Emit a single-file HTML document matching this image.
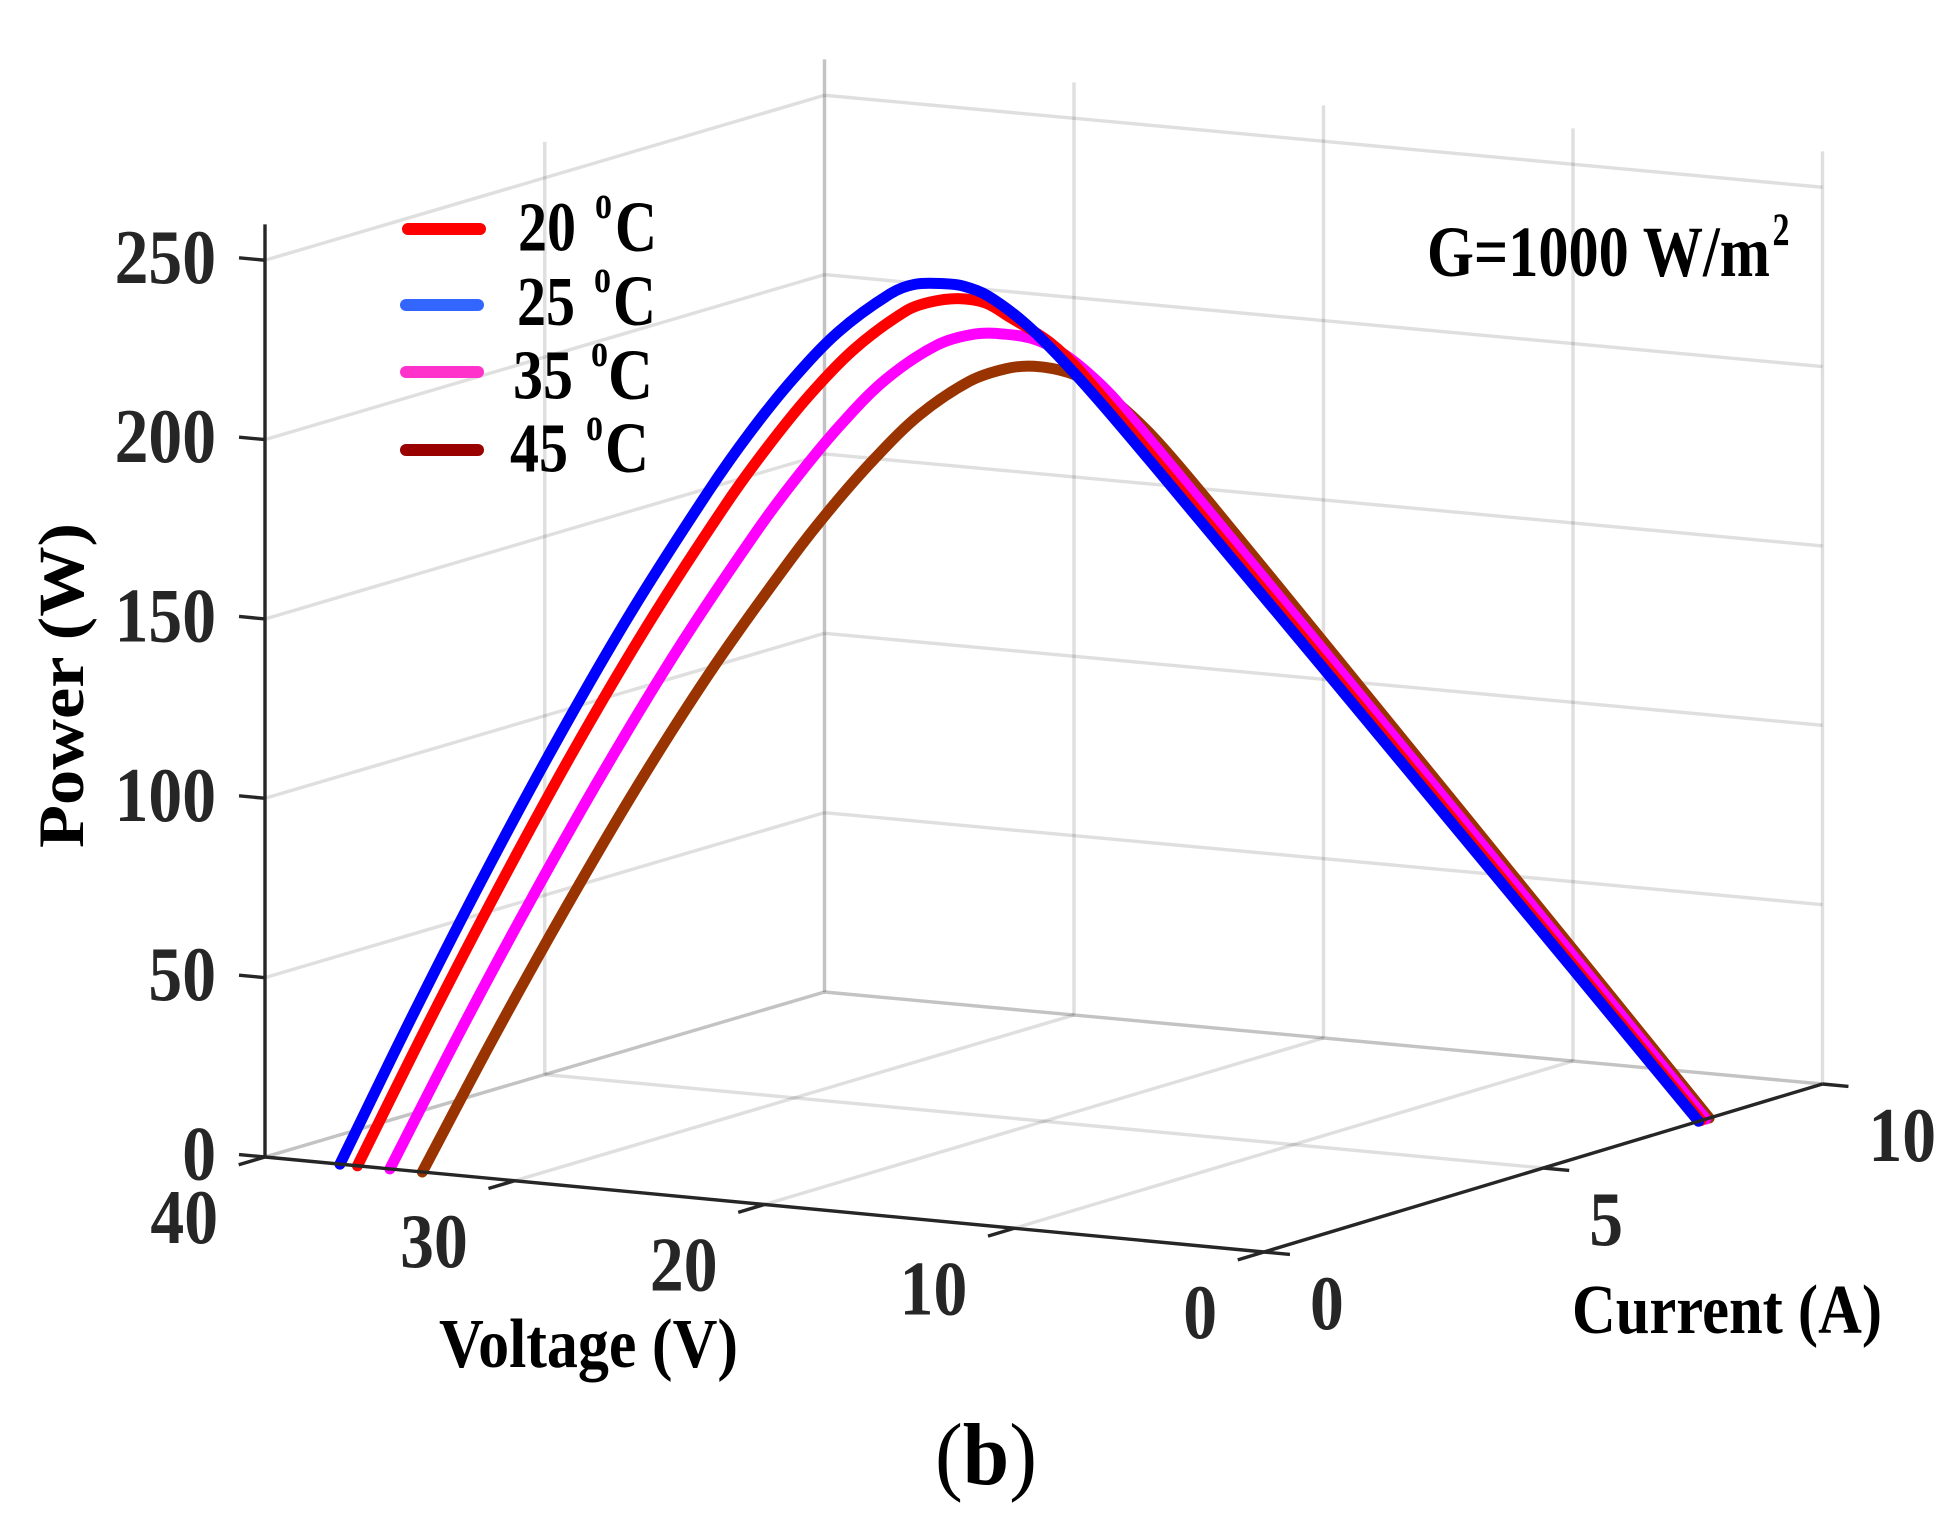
<!DOCTYPE html>
<html lang="en">
<head>
<meta charset="utf-8">
<title>Power vs Voltage and Current</title>
<style>
html,body{margin:0;padding:0;background:#fff;}
svg{display:block;}
text{font-family:"Liberation Serif",serif;font-weight:bold;}
</style>
</head>
<body>
<svg id="chart" xmlns="http://www.w3.org/2000/svg" width="1960" height="1521" viewBox="0 0 1960 1521">
  <rect x="0" y="0" width="1960" height="1521" fill="#ffffff"/>
  <g id="grid"></g>
  <g id="curves"></g>
  <g id="axes"></g>
  <g id="ticklabels"></g>

  <g>
    <line x1="408" y1="229" x2="480" y2="229" stroke="#ff0000" stroke-width="12" stroke-linecap="round"/>
    <text x="518" y="250.5" font-size="70" fill="#000" textLength="58" lengthAdjust="spacingAndGlyphs">20</text>
    <text x="595" y="218" font-size="48" fill="#000" textLength="17" lengthAdjust="spacingAndGlyphs">o</text>
    <text x="615" y="251" font-size="72" fill="#000" textLength="42" lengthAdjust="spacingAndGlyphs">C</text>

    <line x1="406" y1="305" x2="478" y2="305" stroke="#3366ff" stroke-width="12" stroke-linecap="round"/>
    <text x="517" y="325" font-size="70" fill="#000" textLength="58" lengthAdjust="spacingAndGlyphs">25</text>
    <text x="594" y="292" font-size="48" fill="#000" textLength="17" lengthAdjust="spacingAndGlyphs">o</text>
    <text x="613" y="325" font-size="72" fill="#000" textLength="43" lengthAdjust="spacingAndGlyphs">C</text>

    <line x1="406" y1="372" x2="478" y2="372" stroke="#ff33cc" stroke-width="12" stroke-linecap="round"/>
    <text x="513" y="398.5" font-size="70" fill="#000" textLength="60" lengthAdjust="spacingAndGlyphs">35</text>
    <text x="591" y="366" font-size="48" fill="#000" textLength="17" lengthAdjust="spacingAndGlyphs">o</text>
    <text x="608" y="399" font-size="72" fill="#000" textLength="45" lengthAdjust="spacingAndGlyphs">C</text>

    <line x1="406" y1="450" x2="478" y2="450" stroke="#990000" stroke-width="12" stroke-linecap="round"/>
    <text x="510" y="471.5" font-size="70" fill="#000" textLength="58" lengthAdjust="spacingAndGlyphs">45</text>
    <text x="586" y="440" font-size="48" fill="#000" textLength="17" lengthAdjust="spacingAndGlyphs">o</text>
    <text x="605" y="472" font-size="72" fill="#000" textLength="44" lengthAdjust="spacingAndGlyphs">C</text>
  </g>

  <text x="1427" y="276" font-size="72" fill="#000" textLength="343" lengthAdjust="spacingAndGlyphs">G=1000 W/m</text>
  <text x="1772.5" y="245" font-size="47" fill="#000" textLength="17" lengthAdjust="spacingAndGlyphs">2</text>

  <text x="439" y="1367" font-size="70" fill="#000" textLength="299" lengthAdjust="spacingAndGlyphs">Voltage (V)</text>
  <text x="1572" y="1333" font-size="70" fill="#000" textLength="310" lengthAdjust="spacingAndGlyphs">Current (A)</text>
  <text transform="translate(83 848) rotate(-90)" x="0" y="0" font-size="65" fill="#000" textLength="325" lengthAdjust="spacingAndGlyphs">Power (W)</text>
  <text x="935" y="1484" font-size="88" fill="#000" textLength="102" lengthAdjust="spacingAndGlyphs"><tspan font-weight="normal">(</tspan><tspan>b</tspan><tspan font-weight="normal">)</tspan></text>
</svg>

<script>
// ---- chart data ----
const voltageTicks = [0, 10, 20, 30, 40];
const currentTicks = [0, 5, 10];
const powerTicks = [0, 50, 100, 150, 200, 250];
const powerMax = 260;

const seriesNames = ['45c', '35c', '20c', '25c'];
const seriesColors = ['#993300', '#ff00ff', '#ff0000', '#0000ff'];

const voltage25 = [0,5,10,15,20,23.4,25.2,26.77,28.09,28.82,29.34,30.09,30.64,31.61,32.33,32.92,33.42,34.3,35.06,35.75,36.39,37];
const current25 = [7.78,7.78,7.775,7.77,7.76,7.75,7.73,7.69,7.6,7.5,7.4,7.2,7,6.5,6,5.5,5,4,3,2,1,0];
const power25 = [0,38.9,77.75,116.55,155.2,181.4,194.8,205.5,212.9,215.5,216.3,216.6,214.5,205.5,194,181.1,167.1,137.2,105.2,71.5,36.4,0];

const voltage20 = [0,5,10,15,20,24.71,25.94,27.32,28.07,28.81,29.5,30.02,30.96,31.66,32.24,32.74,33.61,34.37,35.05,35.69,36.3];
const current20 = [7.825,7.825,7.82,7.815,7.805,7.79,7.75,7.65,7.55,7.4,7.2,7,6.5,6,5.5,5,4,3,2,1,0];
const power20 = [0,39.1,78.2,117.2,156.1,192.4,200.6,207.2,211.1,212.5,212,210.1,201.2,190,177.3,163.7,134.4,103.1,70.1,35.7,0];

const voltage35 = [0,5,10,15,20,23.58,24.78,25.62,26.37,27.15,27.9,28.77,29.74,30.42,30.98,31.47,32.33,33.08,33.76,34.4,35];
const current35 = [7.91,7.91,7.905,7.9,7.89,7.87,7.82,7.75,7.65,7.5,7.3,7,6.5,6,5.5,5,4,3,2,1,0];
const power35 = [0,39.6,79.1,118.5,157.8,185.6,193.8,198.6,201.7,203.2,203.7,201.4,193.3,182.5,170.4,157.4,129.3,99.2,67.5,34.4,0];

const voltage45 = [0,5,10,15,20,22,23.25,24.28,25.05,26,26.68,27.46,28.37,29.03,29.6,30.1,31,31.78,32.46,33.1,33.7];
const current45 = [7.97,7.97,7.965,7.96,7.95,7.93,7.88,7.8,7.7,7.5,7.3,7,6.5,6,5.5,5,4,3,2,1,0];
const power45 = [0,39.9,79.7,119.4,159,174.5,183.2,189.4,192.9,195,194.8,192.2,184.4,174.2,162.8,150.5,124,95.3,64.9,33.1,0];

// ---- projection (axis functions) ----
function projX(v, i) { return 1264 - 24.975 * v + 55.85 * i + 0.0025 * v * i; }
function projY(v, i, p) { return 1252 - 2.375 * v - 16.8 * i - 3.587 * p + 0.0075 * v * i; }

const NS = 'http://www.w3.org/2000/svg';
function make(tag, attrs, parent) {
  const el = document.createElementNS(NS, tag);
  for (const k in attrs) el.setAttribute(k, attrs[k]);
  parent.appendChild(el);
  return el;
}
function seg3d(parent, a, b, color, width, opacity) {
  return make('line', {
    x1: projX(a[0], a[1]), y1: projY(a[0], a[1], a[2]),
    x2: projX(b[0], b[1]), y2: projY(b[0], b[1], b[2]),
    stroke: color, 'stroke-width': width, 'stroke-opacity': opacity
  }, parent);
}

const vMin = voltageTicks[0], vMax = voltageTicks[voltageTicks.length - 1];
const iMin = currentTicks[0], iMax = currentTicks[currentTicks.length - 1];

// ---- grid ----
const gridG = document.getElementById('grid');
const gc = '#262626', gw = 3.4, go = 0.15;

powerTicks.forEach(function (p) {
  const backLine = seg3d(gridG, [vMin, iMax, p], [vMax, iMax, p], gc, gw, go);
  
  
  const sideLine = seg3d(gridG, [vMax, iMin, p], [vMax, iMax, p], gc, gw, go);
  
  
});
voltageTicks.forEach(function (v) {
  const wallLine = seg3d(gridG, [v, iMax, 0], [v, iMax, powerMax], gc, gw, go);
  
  
  if (v > vMin) {
    const floorLine = seg3d(gridG, [v, iMin, 0], [v, iMax, 0], gc, gw, go);
    
    
  }
});
currentTicks.forEach(function (c) {
  if (c > iMin) {
    const wallLine = seg3d(gridG, [vMax, c, 0], [vMax, c, powerMax], gc, gw, go);
    
    
    const floorLine = seg3d(gridG, [vMin, c, 0], [vMax, c, 0], gc, gw, go);
    
    
  }
});

// ---- curves ----
function tangent(pts, k) {
  const a = pts[Math.max(k - 1, 0)], b = pts[Math.min(k + 1, pts.length - 1)];
  const dx = b[0] - a[0], dy = b[1] - a[1], n = Math.hypot(dx, dy) || 1;
  return [dx / n, dy / n];
}
function smoothPath(pts) {
  let d = 'M' + pts[0][0].toFixed(2) + ' ' + pts[0][1].toFixed(2);
  for (let k = 0; k < pts.length - 1; k++) {
    const p1 = pts[k], p2 = pts[k + 1];
    const len = Math.hypot(p2[0] - p1[0], p2[1] - p1[1]) / 3;
    const t1 = tangent(pts, k), t2 = tangent(pts, k + 1);
    d += 'C' + (p1[0] + t1[0] * len).toFixed(2) + ' ' + (p1[1] + t1[1] * len).toFixed(2) + ' ' +
         (p2[0] - t2[0] * len).toFixed(2) + ' ' + (p2[1] - t2[1] * len).toFixed(2) + ' ' +
         p2[0].toFixed(2) + ' ' + p2[1].toFixed(2);
  }
  return d;
}
const curvesG = document.getElementById('curves');
const allVoltage = [voltage45, voltage35, voltage20, voltage25];
const allCurrent = [current45, current35, current20, current25];
const allPower = [power45, power35, power20, power25];
seriesNames.forEach(function (name, s) {
  const pts = allVoltage[s].map(function (v, k) {
    return [projX(v, allCurrent[s][k]), projY(v, allCurrent[s][k], allPower[s][k])];
  });
  const path = make('path', {
    d: smoothPath(pts), fill: 'none', stroke: seriesColors[s],
    'stroke-width': 11, 'stroke-linecap': 'round', 'stroke-linejoin': 'round'
  }, curvesG);
  
  
});

// ---- axes and ticks ----
const axesG = document.getElementById('axes');
const ac = '#262626', aw = 3.4;
const zAxis = seg3d(axesG, [vMax, iMin, 0], [vMax, iMin, powerMax], ac, aw, 1);


const vAxis = seg3d(axesG, [vMin, iMin, 0], [vMax, iMin, 0], ac, aw, 1);


const cAxis = seg3d(axesG, [vMin, iMin, 0], [vMin, iMax, 0], ac, aw, 1);



const labelsG = document.getElementById('ticklabels');
const digitWidth = 33.8;
function tickLabel(txt, x, y, anchor) {
  return make('text', {
    x: x, y: y, 'font-size': 77, fill: '#262626', 'text-anchor': anchor,
    textLength: (String(txt).length * digitWidth).toFixed(1), lengthAdjust: 'spacingAndGlyphs'
  }, labelsG);
}

powerTicks.forEach(function (p) {
  const t = seg3d(axesG, [vMax, iMin, p], [vMax + 1.04, iMin, p], ac, aw, 1);
  
  
  const l = tickLabel(p, projX(vMax, iMin) - 49, projY(vMax, iMin, p) + 22.5, 'end');
  l.textContent = String(p);
  
  
});
voltageTicks.forEach(function (v) {
  const t = seg3d(axesG, [v, iMin, 0], [v, iMin - 0.47, 0], ac, aw, 1);
  
  
  const l = tickLabel(v, projX(v, iMin) - 47, projY(v, iMin, 0) + 86, 'end');
  l.textContent = String(v);
  
  
});
currentTicks.forEach(function (c) {
  const t = seg3d(axesG, [vMin, c, 0], [vMin - 1.04, c, 0], ac, aw, 1);
  
  
  const l = tickLabel(c, projX(vMin, c) + 46, projY(vMin, c, 0) + 77, 'start');
  l.textContent = String(c);
  
  
});
</script>
</body>
</html>
